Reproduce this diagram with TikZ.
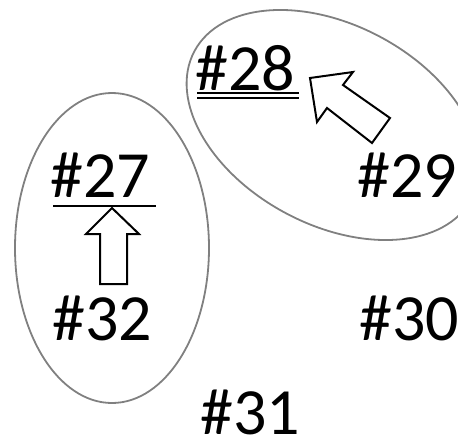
\documentclass[tikz,border=0pt]{standalone}
\usepackage{fontspec}
\setmainfont{Carlito}
\begin{document}
\begin{tikzpicture}[x=1pt,y=-1pt,
  lbl/.style={anchor=base west,inner sep=0pt,text depth=0pt,font=\fontsize{66}{70}\selectfont},
  grp/.style={draw=black!50,line width=1.8pt},
  blockarrow/.style={draw=black,line width=2pt,line join=miter,fill=white}]
\useasboundingbox (0,0) rectangle (458,442);
\clip (0,0) rectangle (458,442);
% groups
\draw[grp] (112,248) ellipse [x radius=97, y radius=155];
\draw[grp,rotate around={-28:(333,125)}] (333,125) ellipse [x radius=157, y radius=100];
% labels
\node[lbl] (n28) at (195,90) {\#28};
\node[lbl] (n29) at (357,197) {\#29};
\node[lbl] (n27) at (50,197) {\#27};
\node[lbl] (n32) at (52,340) {\#32};
\node[lbl] (n30) at (359,340) {\#30};
\node[lbl] (n31) at (200,434) {\#31};
% underlines
\draw[line width=1.6pt] (197,93) -- (299,93);
\draw[line width=1.6pt] (197,98) -- (299,98);
\draw[line width=2.4pt] (53,206) -- (156,206);
% block arrows
\draw[blockarrow] (100,284) -- (100,234) -- (86,234) -- (112,208) -- (139,234) -- (127,234) -- (127,284) -- cycle;
\draw[blockarrow] (390,118) -- (343,85) -- (353,72) -- (310,78) -- (317,122) -- (327,108) -- (372,143) -- cycle;
\end{tikzpicture}
\end{document}
